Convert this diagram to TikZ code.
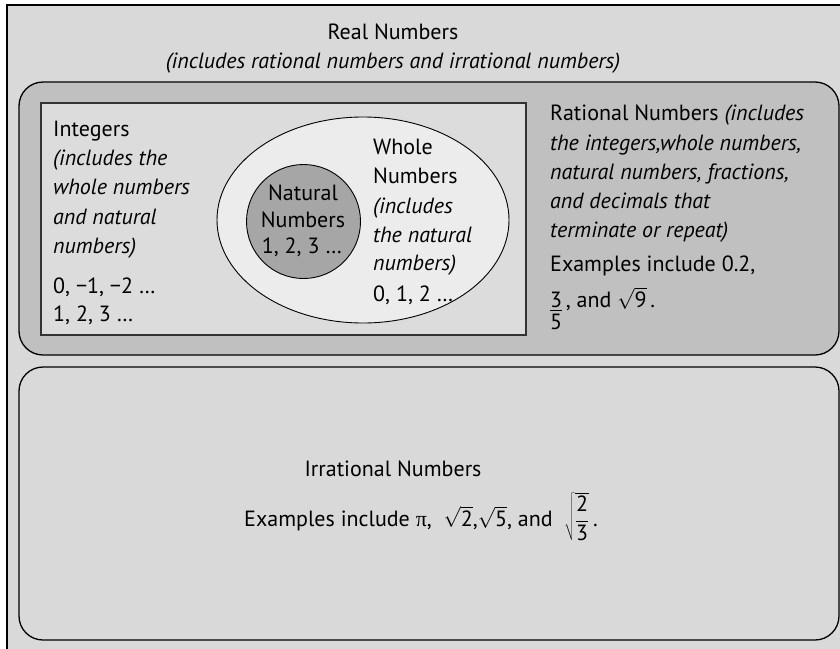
\documentclass[tikz,border=0pt]{standalone}
\usepackage{fontspec}
\setmainfont{PT Sans}
\newfontfamily\symfont{Liberation Serif}
\definecolor{realbg}{HTML}{D9D9D9}
\definecolor{ratbg}{HTML}{C0C0C0}
\definecolor{intbg}{HTML}{DCDCDC}
\definecolor{wholebg}{HTML}{ECECEC}
\definecolor{natbg}{HTML}{A6A6A6}
\definecolor{irrbg}{HTML}{D9D9D9}
\newcommand\stackfrac[2]{\vtop{\hbox{#1}\kern2.5pt\hrule height 1pt\kern3.5pt\hbox{#2}}}
\begin{document}
\begin{tikzpicture}[x=1pt,y=-1pt,
  txt/.style={inner sep=0pt, anchor=base west, font=\fontsize{22}{29}\selectfont},
  ctxt/.style={txt, anchor=base},
  boxline/.style={draw=black, line width=1.3}]
\useasboundingbox (0,0) rectangle (840,648);
% outer real numbers area
\path[fill=realbg, draw=black, line width=1.5] (7,5) rectangle (900,700);
% rational box
\path[fill=ratbg, boxline, rounded corners=24] (19,82) rectangle (839,355);
% integers rectangle
\path[fill=intbg, draw=black!80, line width=1.6] (41,103) rectangle (526,335);
% whole numbers ellipse
\path[fill=wholebg, draw=black, line width=0.9] (363,220) ellipse [x radius=146, y radius=103];
% natural numbers circle
\path[fill=natbg, draw=black, line width=0.9] (303.5,221.5) circle [radius=57];
% irrational box
\path[fill=irrbg, boxline, rounded corners=24] (19,367) rectangle (839,640);

% title
\node[ctxt] (real1) at (393,39) {Real Numbers};
\node[ctxt] (real2) at (393,68) {\textit{(includes rational numbers and irrational numbers)}};

% integers
\node[txt] (int1) at (53,136) {Integers};
\node[txt] (int2) at (53,165.5) {\textit{(includes the}};
\node[txt] (int3) at (53,194.5) {\textit{whole numbers}};
\node[txt] (int4) at (53,224) {\textit{and natural}};
\node[txt] (int5) at (53,253) {\textit{numbers)}};
\node[txt] (int6) at (53,293) {0, −1, −2 …};
\node[txt] (int7) at (53,321) {1, 2, 3 …};

% whole numbers
\node[txt] (wh1) at (373,154) {Whole};
\node[txt] (wh2) at (373,183) {Numbers};
\node[txt] (wh3) at (373,213) {\textit{(includes}};
\node[txt] (wh4) at (373,242) {\textit{the natural}};
\node[txt] (wh5) at (373,270) {\textit{numbers)}};
\node[txt] (wh6) at (373,301) {0, 1, 2 …};

% natural numbers
\node[ctxt] (nat1) at (303,200) {Natural};
\node[ctxt] (nat2) at (303,227) {Numbers};
\node[ctxt] (nat3) at (302,253) {1, 2, 3 …};

% rational numbers
\node[txt] (rat1) at (550,120.7) {Rational Numbers \textit{(includes}};
\node[txt] (rat2) at (550,150) {\textit{the integers,whole numbers,}};
\node[txt] (rat3) at (550,179) {\textit{natural numbers, fractions,}};
\node[txt] (rat4) at (550,208) {\textit{and decimals that}};
\node[txt] (rat5) at (550,237) {\textit{terminate or repeat)}};
\node[txt] (rat6) at (550,271) {Examples include 0.2,};
\node[txt] (rat7) at (550,307) {\stackfrac{3}{5}\,, and $\sqrt{\mbox{9}}$\,.};

% irrational numbers
\node[ctxt] (irr1) at (393,476.7) {Irrational Numbers};
\node[ctxt] (irr2) at (421,526) {Examples include {\symfont π},\ \ $\sqrt{\mbox{2}}$,$\sqrt{\mbox{5}}$, and\ \ $\displaystyle\sqrt{\frac{\mbox{2}}{\mbox{3}}}$\,.};
\end{tikzpicture}
\end{document}
